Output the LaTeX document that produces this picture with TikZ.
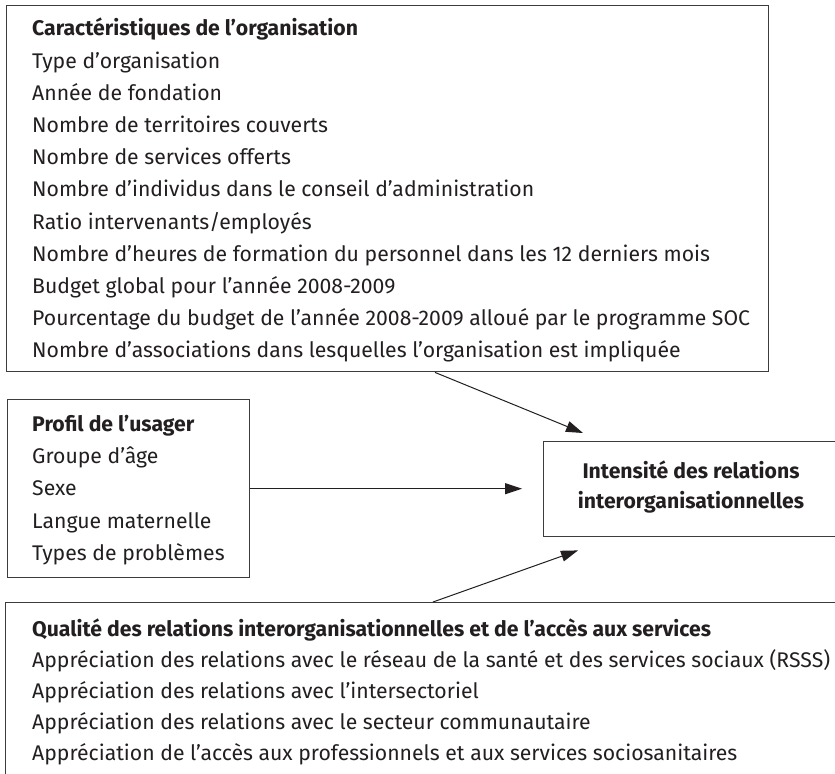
\documentclass[tikz,border=0pt]{standalone}
\usepackage{fontspec}
\setmainfont{Fira Sans}
\usetikzlibrary{arrows.meta,positioning,calc}
\definecolor{ink}{HTML}{231F20}
\definecolor{frameline}{HTML}{3C3C3C}
\tikzset{
  >={Triangle[length=17bp,width=11bp]},
  every node/.style={text=ink},
  frame/.style={draw=frameline,line width=1.4bp,inner sep=0pt,anchor=north west},
  listtext/.style={align=left,inner sep=0pt,anchor=north west,font=\fontsize{21.2bp}{32.2bp}\selectfont},
  headtext/.style={align=center,inner sep=0pt,font=\fontsize{21.2bp}{30bp}\selectfont\bfseries},
  arrow/.style={->,line width=1bp,draw=ink},
}

\begin{document}
\begin{tikzpicture}[x=1bp,y=1bp]
\useasboundingbox (0,0) rectangle (835,-774);
\clip (0,0) rectangle (835,-774);
\fill[white] (0,0) rectangle (835,-774);

% frames
\node[frame,minimum width=762bp,minimum height=366bp] (orgbox) at (6,-5) {};
\node[frame,minimum width=242bp,minimum height=178bp] (usagerbox) at (7,-399) {};
\node[frame,minimum width=300bp,minimum height=95bp] (intensite) at (543,-441) {};
\node[frame,minimum width=840bp,minimum height=200bp] (qualitebox) at (5,-602) {};

% texts
\node[listtext] (orgtext) at (32,-18) {\textbf{Caractéristiques de l’organisation}\\
  Type d’organisation\\
  Année de fondation\\
  Nombre de territoires couverts\\
  Nombre de services offerts\\
  Nombre d’individus dans le conseil d’administration\\
  Ratio intervenants/employés\\
  Nombre d’heures de formation du personnel dans les 12 derniers mois\\
  Budget global pour l’année 2008-2009\\
  Pourcentage du budget de l’année 2008-2009 alloué par le programme SOC\\
  Nombre d’associations dans lesquelles l’organisation est impliquée};

\node[listtext] (usagertext) at (32,-415) {\textbf{Profil de l’usager}\\
  Groupe d’âge\\
  Sexe\\
  Langue maternelle\\
  Types de problèmes};

\node[headtext] (intensitetext) at (691,-487) {Intensité des relations\\interorganisationnelles};

\node[listtext,font=\fontsize{21.2bp}{31bp}\selectfont] (qualitetext) at (32,-619) {\textbf{Qualité des relations interorganisationnelles et de l’accès aux services}\\
  Appréciation des relations avec le réseau de la santé et des services sociaux (RSSS)\\
  Appréciation des relations avec l’intersectoriel\\
  Appréciation des relations avec le secteur communautaire\\
  Appréciation de l’accès aux professionnels et aux services sociosanitaires};

% connectors
\draw[arrow] ([xshift=429bp]orgbox.south west) -- ([shift={(40bp,8bp)}]intensite.north west);
\draw[arrow,shorten >=21bp] (usagerbox.east) -- (usagerbox.east -| intensite.west);
\draw[arrow] ([xshift=428bp]qualitebox.north west) -- ([shift={(35bp,-13bp)}]intensite.south west);

\end{tikzpicture}
\end{document}
